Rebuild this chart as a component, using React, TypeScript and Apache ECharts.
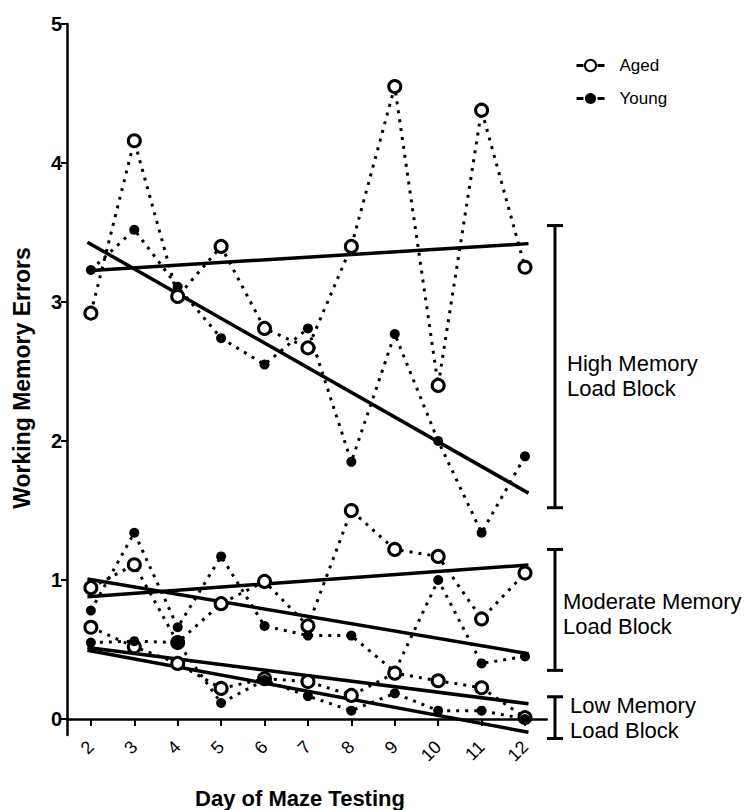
import React, { useEffect, useRef } from "react";
import * as echarts from "echarts";

const days = [2, 3, 4, 5, 6, 7, 8, 9, 10, 11, 12];
const yTicks = [0, 1, 2, 3, 4, 5];

const agedHigh = [2.92, 4.16, 3.04, 3.4, 2.81, 2.67, 3.4, 4.55, 2.4, 4.38, 3.25];
const youngHigh = [3.23, 3.52, 3.11, 2.74, 2.55, 2.81, 1.85, 2.77, 2.0, 1.34, 1.89];
const agedModerate = [0.945, 1.11, 0.55, 0.83, 0.99, 0.67, 1.5, 1.22, 1.17, 0.72, 1.05];
const youngModerate = [0.78, 1.34, 0.66, 1.17, 0.67, 0.6, 0.6, 0.34, 1.0, 0.4, 0.45];
const agedLow = [0.66, 0.52, 0.4, 0.22, 0.29, 0.27, 0.17, 0.33, 0.275, 0.225, 0.01];
const youngLow = [0.55, 0.56, 0.55, 0.115, 0.28, 0.165, 0.06, 0.185, 0.06, 0.06, 0.0];

// fitted trend lines: value at start and end day
const fitDays = [1.92, 12.08];
const fitAgedHigh = [3.225, 3.42];
const fitYoungHigh = [3.43, 1.625];
const fitAgedModerate = [0.88, 1.108];
const fitYoungModerate = [1.007, 0.47];
const fitAgedLow = [0.515, 0.11];
const fitYoungLow = [0.495, -0.095];

const blockLine1 = ["High Memory", "Moderate Memory", "Low Memory"];
const blockLine2 = ["Load Block", "Load Block", "Load Block"];
const blockTop = [3.55, 1.22, 0.16];
const blockBottom = [1.52, 0.35, -0.14];

const FONT = '"Liberation Sans", Arial, sans-serif';

export default function App() {
  const ref = useRef<HTMLDivElement>(null);

  useEffect(() => {
    if (!ref.current) return;
    const chart = echarts.init(ref.current, null, { renderer: "svg" });

    const dotted = { color: "#000", width: 3, type: [3, 6] as any };
    const agedStyle = {
      symbol: "circle",
      symbolSize: 12,
      itemStyle: { color: "#fff", borderColor: "#000", borderWidth: 3 },
      lineStyle: dotted,
    };
    const youngStyle = {
      symbol: "circle",
      symbolSize: 10,
      itemStyle: { color: "#000", borderColor: "#000", borderWidth: 0 },
      lineStyle: dotted,
    };
    const pts = (vals: number[]) => days.map((d, i) => [d, vals[i]]);
    const fit = (vals: number[]) => fitDays.map((d, i) => [d, vals[i]]);
    const fitSeries = (vals: number[]) => ({
      type: "line",
      name: "fit",
      data: fit(vals),
      symbol: "none",
      silent: true,
      z: 1,
      lineStyle: { color: "#000", width: 3.5, type: "solid" },
    });

    chart.setOption({
      animation: false,
      backgroundColor: "#fff",
      textStyle: { fontFamily: FONT },
      grid: { left: 67, right: 208.3, top: 24, bottom: 75 },
      legend: {
        data: ["Aged", "Young"],
        orient: "vertical",
        left: 575,
        top: 57,
        padding: 0,
        itemWidth: 28,
        itemHeight: 14,
        itemGap: 16,
        lineStyle: { type: [7, 14] as any, width: 3, color: "#000" },
        textStyle: { fontSize: 17, color: "#000", fontFamily: FONT, padding: [0, 0, 0, 10] },
      },
      xAxis: {
        type: "value",
        min: 1.45,
        max: 12.5,
        splitLine: { show: false },
        axisLine: { show: true, lineStyle: { color: "#000", width: 2.5 } },
        axisTick: {
          show: true,
          customValues: days,
          length: 7,
          lineStyle: { color: "#000", width: 2 },
        },
        axisLabel: {
          customValues: days,
          rotate: 45,
          fontSize: 18,
          color: "#000",
          margin: 9,
          fontFamily: FONT,
        },
      },
      yAxis: {
        type: "value",
        min: -0.115,
        max: 5,
        splitLine: { show: false },
        axisLine: { show: true, lineStyle: { color: "#000", width: 2.5 } },
        axisTick: {
          show: true,
          customValues: yTicks,
          length: 6,
          lineStyle: { color: "#000", width: 2 },
        },
        axisLabel: {
          customValues: yTicks,
          fontSize: 20,
          fontWeight: "bold",
          color: "#000",
          margin: 5,
          fontFamily: FONT,
        },
      },
      series: [
        fitSeries(fitAgedHigh),
        fitSeries(fitYoungHigh),
        fitSeries(fitAgedModerate),
        fitSeries(fitYoungModerate),
        fitSeries(fitAgedLow),
        fitSeries(fitYoungLow),
        { type: "line", name: "Aged", data: pts(agedHigh), z: 3, ...agedStyle },
        { type: "line", name: "Young", data: pts(youngHigh), z: 3, ...youngStyle },
        { type: "line", name: "Young", data: pts(youngModerate), z: 3, ...youngStyle },
        { type: "line", name: "Aged", data: pts(agedModerate), z: 3, ...agedStyle },
        { type: "line", name: "Aged", data: pts(agedLow), z: 4, ...agedStyle },
        { type: "line", name: "Young", data: pts(youngLow), z: 4, ...youngStyle },
      ],
    });

    const graphics: any[] = [
      {
        type: "text",
        x: 22,
        y: 378,
        rotation: Math.PI / 2,
        style: {
          text: "Working Memory Errors",
          font: `bold 23px ${FONT}`,
          fill: "#000",
          align: "center",
          verticalAlign: "middle",
        },
      },
      {
        type: "text",
        x: 300,
        y: 798,
        style: {
          text: "Day of Maze Testing",
          font: `bold 22px ${FONT}`,
          fill: "#000",
          align: "center",
          verticalAlign: "middle",
        },
      },
    ];

    const bx = 555;
    const textX = [567, 563, 570];
    const textDy = [9, 4, 0];
    blockTop.forEach((t, i) => {
      const yt = chart.convertToPixel({ gridIndex: 0 }, [2, t])[1];
      const yb = chart.convertToPixel({ gridIndex: 0 }, [2, blockBottom[i]])[1];
      const lineStyle = { stroke: "#000", lineWidth: 3 };
      graphics.push(
        { type: "line", shape: { x1: bx, y1: yt, x2: bx, y2: yb }, style: lineStyle },
        { type: "line", shape: { x1: bx - 8, y1: yt, x2: bx + 8, y2: yt }, style: lineStyle },
        { type: "line", shape: { x1: bx - 8, y1: yb, x2: bx + 8, y2: yb }, style: lineStyle }
      );
      const mid = (yt + yb) / 2 + textDy[i];
      graphics.push(
        {
          type: "text",
          x: textX[i],
          y: mid - 12.5,
          style: {
            text: blockLine1[i],
            font: `22px ${FONT}`,
            fill: "#000",
            align: "left",
            verticalAlign: "middle",
          },
        },
        {
          type: "text",
          x: textX[i],
          y: mid + 12.5,
          style: {
            text: blockLine2[i],
            font: `22px ${FONT}`,
            fill: "#000",
            align: "left",
            verticalAlign: "middle",
          },
        }
      );
    });

    chart.setOption({ graphic: graphics });

    return () => chart.dispose();
  }, []);

  return (
    <div
      ref={ref}
      style={{ position: "fixed", left: 0, top: 0, width: 755, height: 810, background: "#fff" }}
    />
  );
}
